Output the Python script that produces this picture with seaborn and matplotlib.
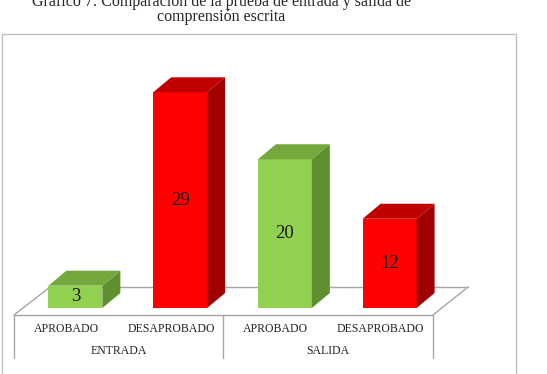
import matplotlib
matplotlib.use("Agg")
import matplotlib.pyplot as plt
import seaborn as sns
import pandas as pd
from matplotlib.patches import Polygon, Rectangle
from matplotlib.lines import Line2D
from matplotlib.transforms import Affine2D

etapas = ["ENTRADA", "ENTRADA", "SALIDA", "SALIDA"]
resultados = ["APROBADO", "DESAPROBADO", "APROBADO", "DESAPROBADO"]
valores = [3, 29, 20, 12]
titulo = ["Gráfico 7: Comparación de la prueba de entrada y salida de",
          "comprensión escrita"]

W, H = 547, 374
FRONT = {"APROBADO": "#92D050", "DESAPROBADO": "#FF0000"}
SIDE = {"APROBADO": "#5F8F2E", "DESAPROBADO": "#A00000"}
TOP = {"APROBADO": "#74A83C", "DESAPROBADO": "#C00000"}
DX, DY = 18, 15      # depth of the bars, px
GRAY = "#A6A6A6"

sns.set_theme(style="white")
plt.rcParams["font.family"] = ["Liberation Serif", "DejaVu Serif"]

fig = plt.figure(figsize=(W / 100, H / 100), dpi=100)
ax = fig.add_axes([23 / W, (H - 308) / H, 419 / W, 238 / H])
pix = Affine2D().scale(1, -1).translate(0, H)   # image px (y down) -> display

df = pd.DataFrame({"etapa": etapas, "resultado": resultados, "valor": valores})
df["clave"] = df["etapa"] + " " + df["resultado"]
sns.barplot(data=df, x="clave", y="valor", hue="clave",
            palette=[FRONT[r] for r in resultados], saturation=1,
            width=0.515, legend=False, ax=ax, zorder=3, linewidth=0)
ax.set_xlim(-0.5, 3.5)
ax.set_ylim(0, 32)
ax.axis("off")

# outer frame
fig.add_artist(Rectangle((2, 34), 514, 345, transform=pix, fill=False,
                         edgecolor="#BFBFBF", lw=1, clip_on=False))

# floor and category table
floor = [([14, 433], [315, 315]), ([50, 468], [287, 287]),
         ([14, 50], [315, 287]), ([433, 468], [315, 287]),
         ([14, 14], [315, 358]), ([223, 223], [315, 358]), ([433, 433], [315, 358])]
for xs, ys in floor:
    fig.add_artist(Line2D(xs, ys, transform=pix, color=GRAY, lw=1, zorder=-1))

# 3D faces of the bars
for p, res, v in zip(ax.patches, resultados, valores):
    x0, y0 = ax.transData.transform((p.get_x(), 0))
    x1, y1 = ax.transData.transform((p.get_x() + p.get_width(), p.get_height()))
    side = [(x1, y0), (x1, y1), (x1 + DX, y1 + DY), (x1 + DX, y0 + DY)]
    top = [(x0, y1), (x1, y1), (x1 + DX, y1 + DY), (x0 + DX, y1 + DY)]
    fig.add_artist(Polygon(side, closed=True, transform=None,
                           facecolor=SIDE[res], edgecolor="none"))
    fig.add_artist(Polygon(top, closed=True, transform=None,
                           facecolor=TOP[res], edgecolor="none"))
    ax.text(p.get_x() + p.get_width() / 2, p.get_height() / 2, str(v),
            ha="center", va="center", fontsize=13.5, color="#1a1a1a", zorder=5)

# category labels
for i, res in enumerate(resultados):
    xd = ax.transData.transform((i, 0))[0] - 9
    fig.text(xd, 329, res, transform=pix, ha="center", va="center",
             fontsize=8.5, color="#222222")
for et in dict.fromkeys(etapas):
    idx = [i for i, e in enumerate(etapas) if e == et]
    xd = ax.transData.transform((sum(idx) / len(idx), 0))[0] - 9
    fig.text(xd, 351, et, transform=pix, ha="center", va="center",
             fontsize=8.5, color="#222222")

# title
fig.text(221, 6, titulo[0], transform=pix, ha="center", va="baseline", fontsize=11.5)
fig.text(221, 21, titulo[1], transform=pix, ha="center", va="baseline", fontsize=11.5)

fig.savefig("out.png", dpi=100)
